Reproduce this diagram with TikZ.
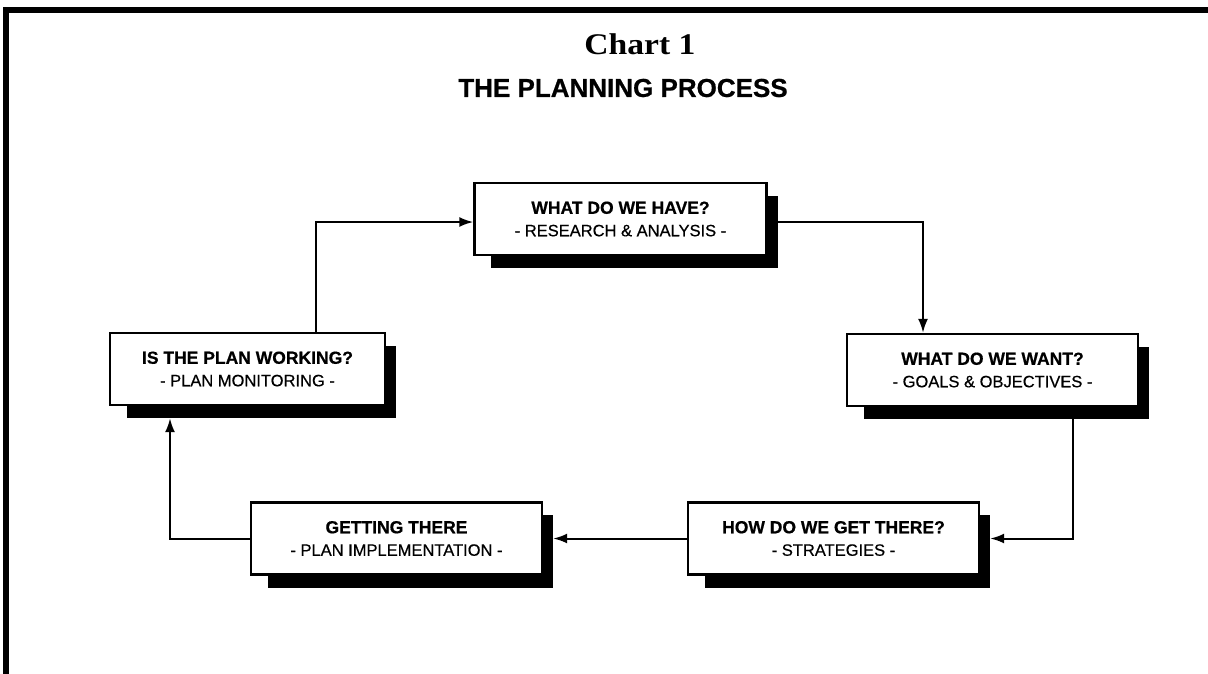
\documentclass[tikz,border=0pt]{standalone}
\usepackage{fontspec}
\setmainfont{Liberation Sans}
\newfontfamily\chartserif{Liberation Serif}
\newfontfamily\heavyfont[FakeBold=0.6]{Liberation Sans Bold}
\newfontfamily\medfont[FakeBold=0.5]{Liberation Sans}
\usetikzlibrary{arrows.meta,calc,backgrounds}
\tikzset{
  stepbox/.style={draw=black, fill=white, line width=2.4pt, minimum height=72pt, inner sep=0pt, align=center, font=\fontsize{17.5}{22.5}\selectfont},
  arr/.style={line width=2pt, -{Latex[length=14pt,width=10pt]}},
}
\newcommand{\boxtext}[2]{{\heavyfont #1}\\{\medfont\fontsize{16.5}{22}\selectfont #2}}
\begin{document}
\begin{tikzpicture}[x=1pt,y=-1pt]
\useasboundingbox (0,0) rectangle (1208,673);
% title
\node (chart) at (640,44) {\chartserif\bfseries\fontsize{30}{32}\selectfont\scalebox{1.12}[1]{Chart 1}};
\node (title) at (623,88) {\heavyfont\fontsize{26}{28}\selectfont THE PLANNING PROCESS};
% boxes
\node[stepbox, minimum width=292pt] (have) at (620.5,219) {\boxtext{WHAT DO WE HAVE?}{- RESEARCH \& ANALYSIS -}};
\node[stepbox, minimum width=275pt] (work) at (247.5,369) {\boxtext{IS THE PLAN WORKING?}{- PLAN MONITORING -}};
\node[stepbox, minimum width=291pt] (want) at (992.5,370) {\boxtext{WHAT DO WE WANT?}{- GOALS \& OBJECTIVES -}};
\node[stepbox, minimum width=291pt] (get) at (396.5,538.5) {\boxtext{GETTING THERE}{- PLAN IMPLEMENTATION -}};
\node[stepbox, minimum width=291pt] (how) at (833.5,538.5) {\boxtext{HOW DO WE GET THERE?}{- STRATEGIES -}};
% shadows and frame
\begin{scope}[on background layer]
  \fill[white] (0,0) rectangle (1208,673);
  \foreach \b in {have,work,want,get,how}{
    \fill[black] ([xshift=18pt,yshift=-14pt]\b.north west) rectangle ([xshift=10pt,yshift=-12pt]\b.south east);
  }
\end{scope}
\draw[line width=6pt, line join=miter] (6,676) -- (6,10) -- (1211,10);
% connectors
\draw[arr] ([xshift=68.5pt]work.north) |- ([yshift=-3pt]have.west);
\draw[arr] ([yshift=-3pt]have.east) -| ([xshift=-69.5pt]want.north);
\draw[arr] ([xshift=80.5pt]want.south) |- ([xshift=10pt]how.east);
\draw[arr] (how.west) -- ([xshift=10pt]get.east);
\draw[arr] (get.west) -| ([xshift=-77.5pt,yshift=-12pt]work.south);
\end{tikzpicture}
\end{document}
